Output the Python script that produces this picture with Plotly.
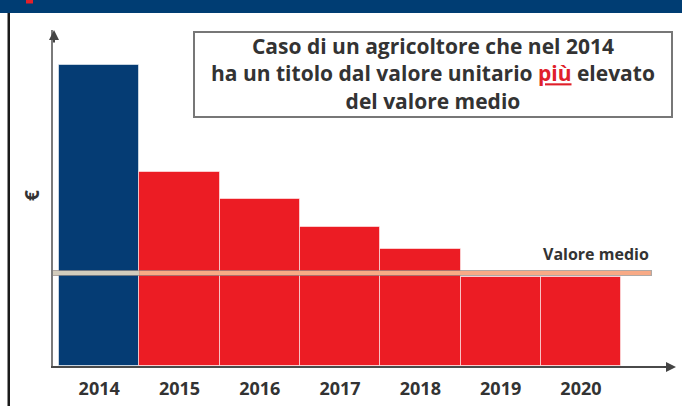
import plotly.graph_objects as go

years = ["2014", "2015", "2016", "2017", "2018", "2019", "2020"]
values = [100, 64.5, 55.5, 46.2, 38.9, 29.6, 29.6]
bar_colors = ["#053c74", "#ec1c24", "#ec1c24", "#ec1c24", "#ec1c24", "#ec1c24", "#ec1c24"]
mean_value = 30.9
title_lines = ["Caso di un agricoltore che nel 2014",
               "ha un titolo dal valore unitario <span style='color:#e0202a'><u>più</u></span> elevato",
               "del valore medio"]
mean_label = "Valore medio"
y_label = "€"

W, H = 682, 406
L, R, T, B = 53, 10, 30, 40
PW, PH = W - L - R, H - T - B


def px(x):
    return (x - L) / PW


def py(y):
    return (H - B - y) / PH


fig = go.Figure()
fig.add_trace(go.Bar(
    x=years, y=values,
    marker=dict(color=bar_colors, line=dict(color="rgba(255,255,255,0.55)", width=1)),
    width=1.0, showlegend=False, hoverinfo="skip"))

fig.update_layout(
    width=W, height=H,
    margin=dict(l=L, r=R, t=T, b=B, autoexpand=False),
    paper_bgcolor="white", plot_bgcolor="white",
    bargap=0,
    xaxis=dict(type="category", range=[-0.575, 7.134], showgrid=False, zeroline=False,
               showline=True, linecolor="#4a4a4a", linewidth=2, ticks="", automargin=False,
               tickfont=dict(family="Open Sans", size=18, color="#333333", weight="bold"),
               ticklabelstandoff=5, fixedrange=True),
    yaxis=dict(range=[0, 111.6], showgrid=False, zeroline=False, showticklabels=False,
               showline=True, linecolor="#7a7a7a", linewidth=2, ticks="", automargin=False,
               fixedrange=True),
)

# mean line (outline + fill; paler over the blue bar)
fig.add_shape(type="line", xref="x", yref="y", x0=-0.72, x1=6.885, y0=mean_value, y1=mean_value,
              line=dict(color="rgba(150,140,135,0.75)", width=6), layer="above")
fig.add_shape(type="line", xref="x", yref="y", x0=-0.7, x1=0.5, y0=mean_value, y1=mean_value,
              line=dict(color="#d2ccbc", width=4), layer="above")
fig.add_shape(type="line", xref="x", yref="y", x0=0.5, x1=6.87, y0=mean_value, y1=mean_value,
              line=dict(color="#f8aa86", width=4), layer="above")

# banner and border
fig.add_shape(type="rect", xref="paper", yref="paper", x0=px(-2), x1=px(W + 2), y0=py(13), y1=py(-2),
              fillcolor="#003d73", line=dict(width=0), layer="above")
fig.add_shape(type="rect", xref="paper", yref="paper", x0=px(26), x1=px(33), y0=py(3.5), y1=py(-2),
              fillcolor="#e3202a", line=dict(width=0), layer="above")
fig.add_shape(type="rect", xref="paper", yref="paper", x0=px(7.5), x1=px(10), y0=py(H + 2), y1=py(13),
              fillcolor="#1a1a1a", line=dict(width=0), layer="above")

# text box
fig.add_shape(type="rect", xref="paper", yref="paper", x0=px(194), x1=px(672), y0=py(117), y1=py(32),
              fillcolor="white", line=dict(color="#777777", width=2), layer="above")
fig.add_annotation(xref="paper", yref="paper", x=px(433), y=py(73), text="<br>".join(title_lines),
                   showarrow=False, xanchor="center", yanchor="middle", align="center",
                   font=dict(family="Open Sans", size=21, color="#333333", weight="bold"))

# mean label
fig.add_annotation(xref="paper", yref="paper", x=px(651), y=py(254), text=mean_label, showarrow=False,
                   xanchor="right", yanchor="middle",
                   font=dict(family="Open Sans", size=16, color="#333333", weight="bold"))

# euro sign
fig.add_annotation(xref="paper", yref="paper", x=px(32), y=py(196), text=y_label, showarrow=False,
                   xanchor="center", yanchor="middle", textangle=-90,
                   font=dict(family="Open Sans", size=19, color="#333333", weight="bold"))

# axis arrows
fig.add_annotation(xref="paper", yref="paper", x=px(54), y=py(30), ax=0, ay=14, text="",
                   showarrow=True, arrowhead=2, arrowsize=1, arrowwidth=2, arrowcolor="#444444")
fig.add_annotation(xref="paper", yref="paper", x=px(676), y=py(367), ax=-14, ay=0, text="",
                   showarrow=True, arrowhead=2, arrowsize=1, arrowwidth=2, arrowcolor="#444444")

fig.write_html("out.html")
